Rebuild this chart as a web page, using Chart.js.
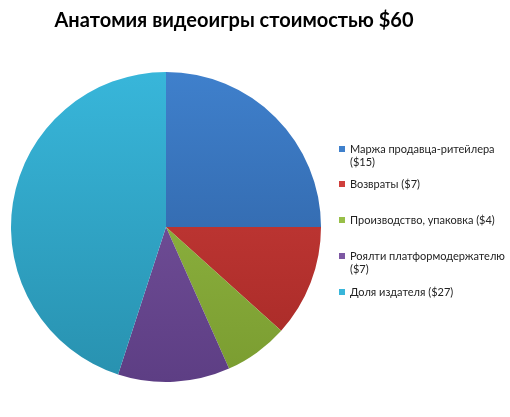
<!DOCTYPE html>
<html>
<head>
<meta charset="utf-8">
<script src="https://cdn.jsdelivr.net/npm/chart.js@4"></script>
<style>
  html, body { margin: 0; padding: 0; background: #fff; }
  #wrap { position: relative; width: 510px; height: 417px; overflow: hidden; }
  #c { position: absolute; left: 0; top: 0; }
  #title { position: absolute; left: 0; width: 468px; top: 7px; text-align: center;
    font-family: Lato, "Open Sans", sans-serif; font-weight: bold; font-size: 20px; color: #000; }
  #legend { position: absolute; left: 339px; top: 142px; font-family: Lato, "Open Sans", sans-serif;
    font-size: 11px; color: #222; line-height: 13px; }
  .item { position: absolute; left: 0; white-space: nowrap; }
  .sw { position: absolute; left: 0; top: 4px; width: 6px; height: 6px; }
  .tx { position: absolute; left: 11px; top: 0; }
</style>
</head>
<body>
<div id="wrap">
  <canvas id="c" width="510" height="417"></canvas>
  <div id="title"></div>
  <div id="legend"></div>
</div>
<script>
const titleText = "Анатомия видеоигры стоимостью $60";
const categories = [
  ["Маржа продавца-ритейлера", "($15)"],
  ["Возвраты ($7)"],
  ["Производство, упаковка ($4)"],
  ["Роялти платформодержателю", "($7)"],
  ["Доля издателя ($27)"]
];
const values = [15, 7, 4, 7, 27];
const colorsTop = ["#3f80cc", "#d03f3c", "#98bf48", "#7d58a3", "#38b6da"];
const colorsBottom = ["#2b5b9a", "#a52926", "#7a9c30", "#5d3e84", "#2891af"];
const legendTops = [0, 35, 71, 107, 143];

document.getElementById('title').textContent = titleText;

const leg = document.getElementById('legend');
categories.forEach((lines, i) => {
  const it = document.createElement('div');
  it.className = 'item';
  it.style.top = legendTops[i] + 'px';
  const sw = document.createElement('div');
  sw.className = 'sw';
  sw.style.background = colorsTop[i];
  const tx = document.createElement('div');
  tx.className = 'tx';
  tx.innerHTML = lines.map(l => l.replace(/&/g,'&amp;').replace(/</g,'&lt;')).join('<br>');
  it.appendChild(sw); it.appendChild(tx);
  leg.appendChild(it);
});

function grad(ctx, i) {
  const chart = ctx.chart;
  const a = chart.chartArea;
  if (!a) return colorsTop[i];
  const g = chart.ctx.createLinearGradient(0, a.top, 0, a.bottom);
  g.addColorStop(0, colorsTop[i]);
  g.addColorStop(1, colorsBottom[i]);
  return g;
}

new Chart(document.getElementById('c'), {
  type: 'pie',
  data: {
    labels: categories.map(l => l.join(' ')),
    datasets: [{
      data: values,
      backgroundColor: (ctx) => grad(ctx, ctx.dataIndex),
      borderWidth: 0
    }]
  },
  options: {
    responsive: false,
    animation: false,
    layout: { padding: { left: 11, right: 189, top: 72, bottom: 35 } },
    plugins: {
      legend: { display: false },
      title: { display: false },
      tooltip: { enabled: false }
    }
  }
});
</script>
</body>
</html>
